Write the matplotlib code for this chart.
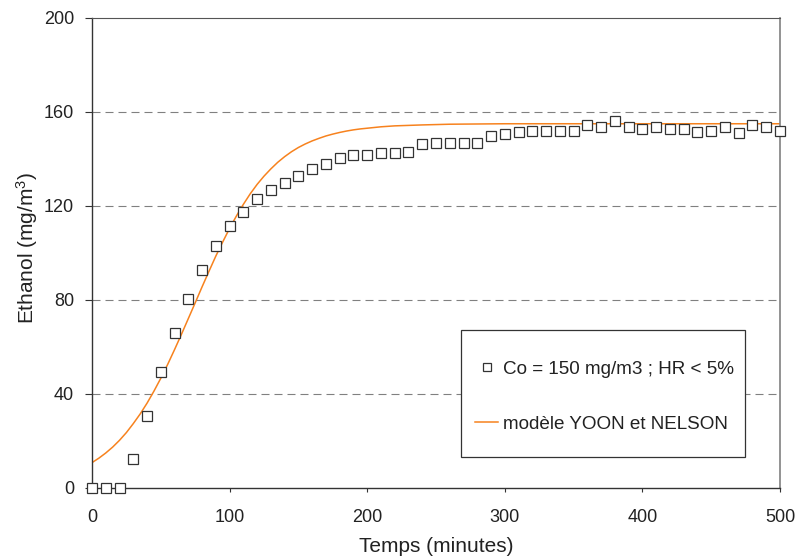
import matplotlib
matplotlib.use("Agg")
import matplotlib.pyplot as plt
from matplotlib.patches import Rectangle

plt.rcParams['font.family'] = ['Liberation Sans', 'DejaVu Sans']
plt.rcParams['mathtext.fontset'] = 'custom'
plt.rcParams['mathtext.rm'] = 'Liberation Sans'
plt.rcParams['mathtext.it'] = 'Liberation Sans'

# measured ethanol concentration (every 10 minutes)
temps = list(range(0, 510, 10))
ethanol = [0, 0, 0, 12.2, 30.5, 49.3, 66.0, 80.4, 92.7, 103.0,
           111.3, 117.4, 122.8, 126.6, 129.7, 132.8, 135.7, 137.9, 140.3, 141.8,
           141.8, 142.5, 142.5, 143.1, 146.5, 146.7, 146.7, 146.7, 146.7, 149.9,
           150.7, 151.4, 152.0, 152.0, 152.0, 152.0, 154.6, 153.7, 156.0, 153.6,
           152.9, 153.6, 152.9, 152.9, 151.4, 152.1, 153.6, 151.1, 154.6, 153.6,
           152.1]

# model curve (YOON et NELSON)
t_model = [0, 5, 10, 15, 20, 25, 30, 35, 40, 45, 50, 55, 60, 65, 70, 75, 80, 85,
           90, 95, 100, 105, 110, 115, 120, 125, 130, 135, 140, 145, 150, 155,
           160, 165, 170, 175, 180, 185, 190, 195, 200, 210, 220, 230, 240, 260,
           280, 300, 350, 400, 450, 500]
c_model = [10.8, 12.7, 14.9, 17.4, 20.3, 23.6, 27.4, 31.5, 36.1, 41.2, 46.7, 52.6,
           58.9, 65.4, 72.1, 78.8, 85.6, 92.2, 98.7, 104.7, 110.5, 115.8, 120.7,
           125.2, 129.2, 132.7, 135.8, 138.6, 141.0, 143.1, 144.9, 146.4, 147.7,
           148.8, 149.8, 150.6, 151.3, 151.9, 152.4, 152.8, 153.1, 153.7, 154.1,
           154.3, 154.5, 154.8, 154.9, 155.0, 155.0, 155.0, 155.0, 155.0]

xticks = [0, 100, 200, 300, 400, 500]
yticks = [0, 40, 80, 120, 160, 200]

fig = plt.figure(figsize=(7.95, 5.59), dpi=100)
ax = fig.add_axes([92 / 795, 1 - 488 / 559, 688 / 795, 470 / 559])

# dashed horizontal grid
for y in yticks[1:-1]:
    ax.axhline(y, color='#808080', lw=0.8, dashes=(7.2, 4.5), zorder=1)

ax.plot(temps, ethanol, linestyle='none', marker='s', markersize=6.5,
        markerfacecolor='white', markeredgecolor='#333333', markeredgewidth=0.9,
        label='Co = 150 mg/m3 ; HR < 5%', zorder=3, clip_on=False)
ax.plot(t_model, c_model, color='#F7821E', lw=1.1,
        label='modèle YOON et NELSON', zorder=2)

ax.set_xlim(0, 500)
ax.set_ylim(0, 200)
ax.set_xticks(xticks)
ax.set_yticks(yticks)
ax.tick_params(axis='x', direction='out', length=3, width=0.8, pad=12,
               labelsize=13, colors='#333333', labelcolor='#222222')
ax.tick_params(axis='y', direction='out', length=5, width=0.8, pad=8,
               labelsize=13, colors='#333333', labelcolor='#222222')

for side in ['left', 'bottom']:
    ax.spines[side].set_color('#333333')
    ax.spines[side].set_linewidth(1.0)
ax.spines['top'].set_color('#555555')
ax.spines['right'].set_color('#808080')
ax.spines['right'].set_linewidth(1.2)

ax.set_xlabel('Temps (minutes)', fontsize=15, color='#222222', labelpad=8)
ax.set_ylabel('Ethanol (mg/m$^3$)', fontsize=15, color='#222222')
ax.yaxis.set_label_coords(-0.076, 0.51)

# legend box
box = Rectangle((0.536, 0.066), 0.413, 0.270, transform=ax.transAxes,
                facecolor='white', edgecolor='#333333', lw=0.9, zorder=4)
ax.add_patch(box)
leg = ax.legend(loc='center left', bbox_to_anchor=(0.557, 0.194),
                frameon=False, fontsize=13.6, borderpad=0, borderaxespad=0,
                handlelength=1.2, handletextpad=0.25, labelspacing=2.0,
                markerscale=0.85)
leg.set_zorder(5)
for txt in leg.get_texts():
    txt.set_color('#222222')

fig.savefig('out.png', dpi=100)
